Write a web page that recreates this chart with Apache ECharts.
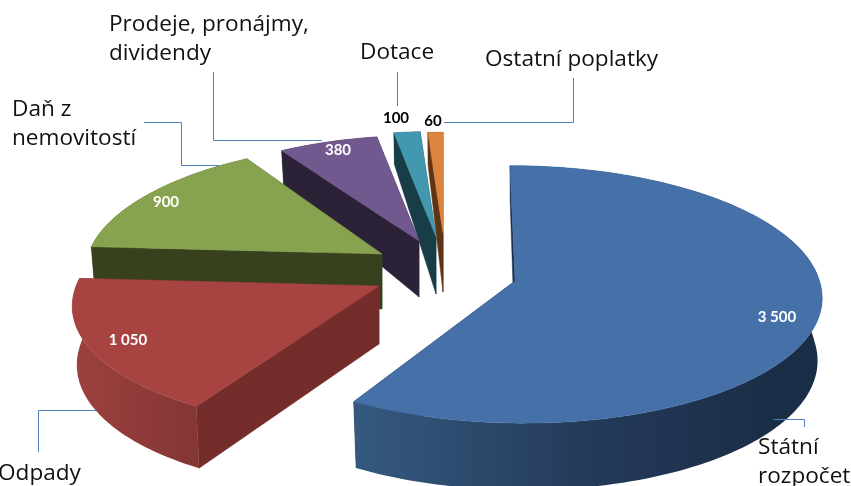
<!DOCTYPE html>
<html><head><meta charset="utf-8">
<style>html,body{margin:0;padding:0;background:#fff}#c{width:851px;height:486px}</style>
<script src="https://cdn.jsdelivr.net/npm/echarts@6/dist/echarts.min.js"></script>
</head><body><div id="c"></div>
<script>
const categories=['Státní rozpočet','Odpady','Daň z nemovitostí','Prodeje, pronájmy, dividendy','Dotace','Ostatní poplatky'];
const values=[3500,1050,900,380,100,60];

// --- layout / style (not data) ---
const baseRx=306, baseRy=128, persp=0.104;
const sliceCx=[515,379,382,419,436,443];
const sliceCy=[281,286,254,241,237,233];
const sliceScale=[0.995,0.99,0.96,0.91,0.91,0.87];
const sliceSkewBack=[5,-17,-12,0,0,0];
const sliceSkewFront=[9,-17,-12,0,0,0];
const sliceDepth=[62,58,55,56,57,59];
const topColors=['#4571A8','#A74442','#87A34F','#71588F','#4198AF','#DB843D'];
const cutColors=['#1A2D46','#752D2B','#38411E','#2C2238','#193D47','#5F3415'];
const wallStops=[['#35597F','#243A5A','#1A2D46'],['#9E413F','#8E3A38','#823634'],['#38411E','#38411E','#38411E'],['#2C2238','#2C2238','#2C2238'],['#193D47','#193D47','#193D47'],['#5F3415','#5F3415','#5F3415']];
const wallRange=[[355,780],[72,204],[90,382],[280,419],[393,436],[427,443]];
const valueLabelPos=[[777,317],[128,340],[166,202],[338,150],[396,118],[433,121]];
const valueLabelColor=['#fff','#fff','#fff','#fff','#000','#000'];
const catLabelPos=[[758,433.5],[-2,459],[12,95],[109,10.5],[360,38.5],[485,45.5]];
const catLabelText=['Státní\nrozpočet','Odpady','Daň z\nnemovitostí','Prodeje, pronájmy,\ndividendy','Dotace','Ostatní poplatky'];
const leaders=[
 [[773.5,419.5],[804.5,419.5],[804.5,427]],
 [[38.5,452],[38.5,410.5],[97,410.5]],
 [[144,122.5],[181.5,122.5],[181.5,165.5],[219,165.5]],
 [[213.5,72],[213.5,140.5],[322,140.5]],
 [[397.5,72],[397.5,106]],
 [[573.5,78],[573.5,122.5],[444,122.5]]
];

const total=values.reduce((a,b)=>a+b,0);
const starts=[];let acc=0;values.forEach(v=>{starts.push(acc/total*2*Math.PI);acc+=v;});

function fmt(v){return String(v).replace(/\B(?=(\d{3})+$)/g,' ');}
function project(i,a){
  const u=Math.sin(a),v=-Math.cos(a),s=1/(1-persp*v),k=sliceScale[i];
  const skew=v<0?sliceSkewBack[i]:sliceSkewFront[i];
  return {x:sliceCx[i]+k*(baseRx*u*s+skew*v),y:sliceCy[i]+k*baseRy*v*s,v};
}
function drop(i,p){
  const c=p.v<0?0.45:0.08;
  return [sliceCx[i]+(p.x-sliceCx[i])*0.985,p.y+sliceDepth[i]*(1+c*p.v)];
}
function renderSlice(params,api){
  const i=api.value(1), a0=starts[i], a1=a0+api.value(0)/total*2*Math.PI;
  const arc=[];const n=Math.max(4,Math.ceil((a1-a0)/(1.5*Math.PI/180)));
  for(let k=0;k<=n;k++)arc.push(project(i,a0+(a1-a0)*k/n));
  const apex={x:sliceCx[i],y:sliceCy[i],v:0};
  const apexD=drop(i,apex);
  const poly=(pts,fill,stroke)=>({type:'polygon',shape:{points:pts},style:{fill,stroke:stroke||fill,lineWidth:0.5}});
  const cutFace=(p)=>poly([[apex.x,apex.y],[p.x,p.y],drop(i,p),apexD],cutColors[i]);
  const top=arc.map(p=>[p.x,p.y]);top.push([apex.x,apex.y]);
  const wall=arc.map(p=>[p.x,p.y]).concat(arc.map(p=>drop(i,p)).reverse());
  const r=wallRange[i],st=wallStops[i];
  const grad=new echarts.graphic.LinearGradient(r[0],0,r[1],0,[{offset:0,color:st[0]},{offset:0.55,color:st[1]},{offset:1,color:st[2]}],true);
  const first=arc[0],last=arc[arc.length-1];
  const lp=valueLabelPos[i];
  return {type:'group',children:[
    cutFace(first),cutFace(last),
    {type:'polygon',shape:{points:wall},style:{fill:grad,stroke:null}},
    poly(top,topColors[i]),
    {type:'text',style:{text:fmt(api.value(0)),x:lp[0],y:lp[1],align:'center',verticalAlign:'middle',font:'bold 15px Lato',fill:valueLabelColor[i]}}
  ]};
}

const graphic=[];
leaders.forEach(pts=>graphic.push({type:'polyline',shape:{points:pts},style:{stroke:'#4F81BD',lineWidth:1,fill:null},z:10}));
catLabelText.forEach((t,i)=>graphic.push({type:'text',x:catLabelPos[i][0],y:catLabelPos[i][1],z:10,
  style:{text:t,font:'22.6px "Open Sans"',lineHeight:29,fill:'#111',verticalAlign:'top'}}));

const chart=echarts.init(document.getElementById('c'),null,{renderer:'canvas'});
chart.setOption({
  animation:false,backgroundColor:'#fff',
  graphic,
  series:[{type:'custom',coordinateSystem:'none',renderItem:renderSlice,clip:false,silent:true,
    encode:{itemName:2},
    data:values.map((v,i)=>[v,i,categories[i]]).reverse()}]
});
</script></body></html>
